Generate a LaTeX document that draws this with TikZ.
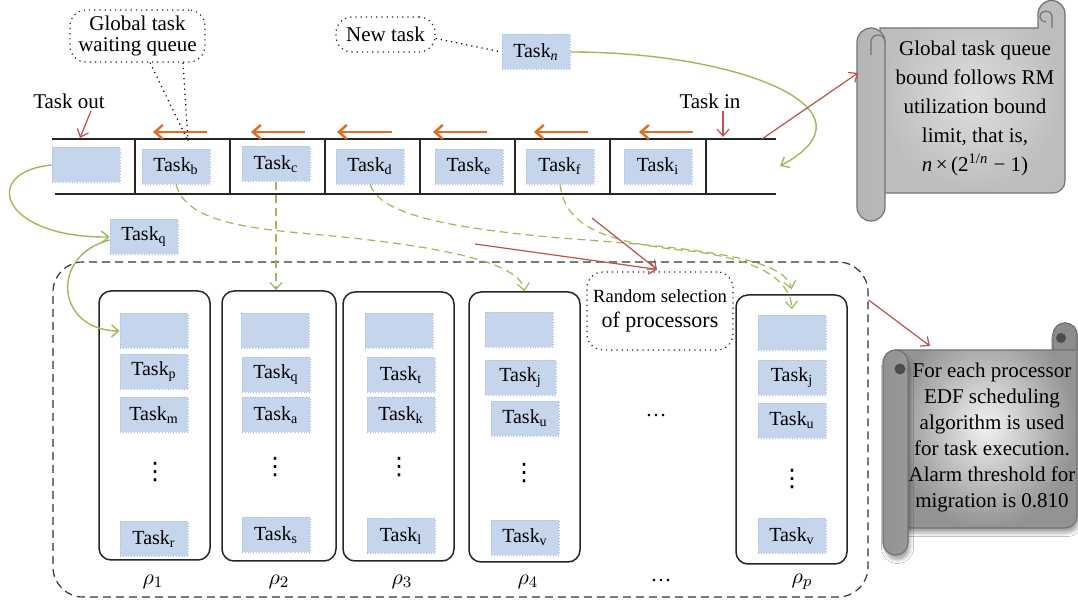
\documentclass[tikz,border=0pt]{standalone}
\usepackage{fontspec}
\setmainfont{Liberation Serif}
\newfontfamily\dotsfont{DejaVu Sans}
\usetikzlibrary{arrows.meta,shadows.blur}

\definecolor{taskblue}{HTML}{C5D5EC}
\definecolor{taskedge}{HTML}{A8BCDC}
\definecolor{flowgreen}{HTML}{9BBB59}
\definecolor{flowred}{HTML}{C0504D}
\definecolor{shiftorange}{HTML}{E46C1E}

\begin{document}
\begin{tikzpicture}[x=0.5pt,y=-0.5pt,
  every node/.style={font=\fontsize{10.5}{12.5}\selectfont, inner sep=1pt},
  task/.style={fill=taskblue, draw=taskedge, densely dotted, line width=0.4pt,
    minimum width=34pt, minimum height=17.5pt, inner sep=0pt,
    font=\fontsize{10}{12}\selectfont},
  proc/.style={draw=black!85, rounded corners=6pt, line width=0.75pt,
    minimum width=55.5pt, minimum height=134.5pt, inner sep=0pt},
  pool/.style={draw=black!80, dash pattern=on 4pt off 2.5pt, rounded corners=15pt,
    line width=0.6pt, inner sep=0pt},
  callout/.style={draw=black!85, dotted, line width=0.6pt, rounded corners=8pt,
    inner sep=0pt, align=center},
  vdotsnode/.style={inner sep=0pt, font=\dotsfont\fontsize{12}{12}\selectfont},
  tip/.style={-{Straight Barb[length=3.5pt,width=6pt]}},
  flow/.style={draw=flowgreen, line width=0.7pt, tip},
  pick/.style={draw=flowgreen, line width=0.6pt, dash pattern=on 4pt off 2.5pt, tip},
  hint/.style={draw=flowred, line width=0.6pt, tip},
  shiftarrow/.style={draw=shiftorange, line width=1.2pt,
    -{Straight Barb[length=4pt,width=7pt]}},
  queueline/.style={draw=black!85, line width=0.8pt},
  rolledge/.style={draw=black!55, line width=0.6pt}]

\path[use as bounding box, fill=white] (0,0) rectangle (1078,604);

% ---------- global queue ----------
\draw[queueline] (52,139) -- (776,139);
\draw[queueline] (55,194) -- (776,194);
\foreach \x in {135,230,325,420,515,610,706}
  \draw[queueline] (\x,139) -- (\x,194);

\node[task] (q0) at (86,165) {};
\node[task] (tb) at (176,166.5) {Task\textsubscript{b}};
\node[task] (tc) at (276,164) {Task\textsubscript{c}};
\node[task] (td) at (370,166.5) {Task\textsubscript{d}};
\node[task] (te) at (469,166.5) {Task\textsubscript{e}};
\node[task] (tf) at (560,166.5) {Task\textsubscript{f}};
\node[task] (ti) at (658,166.5) {Task\textsubscript{i}};

\coordinate (qout) at (80,138);
\coordinate (qin) at (723,137);
\coordinate (qend) at (762,139);
\coordinate (lastcell) at (780,166);
\coordinate (gqtip) at (188,141);

% shifting direction of the queue
\foreach \s/\e [count=\i] in {207/153,305/251,392/337,487/433,588/534,693/639}{
  \coordinate (os\i) at (\s,132);
  \coordinate (oe\i) at (\e,132);
  \draw[shiftarrow] (os\i) -- (oe\i);
}

\node (tout) at (69,101) {Task out};
\node (tin) at (710,101) {Task in};
\draw[hint] ([xshift=11pt]tout.south) -- (qout);
\draw[hint] ([xshift=6.5pt]tin.south) -- (qin);

\node[callout, minimum width=67.5pt, minimum height=26pt,
  font=\fontsize{10.5}{10.5}\selectfont] (gq) at (137.5,36) {Global task\\waiting queue};
\draw[dotted, line width=0.6pt] ([xshift=6.25pt]gq.south) -- (gqtip);
\draw[dotted, line width=0.6pt] ([xshift=22.75pt]gq.south) -- (gqtip);

\node[callout, minimum width=49.5pt, minimum height=17.5pt] (nt) at (385.5,34.5) {New task};
\node[task] (tn) at (536,52) {Task\textsubscript{\textit{n}}};
\draw[dotted, line width=0.6pt] ([yshift=-2pt]nt.east) -- (tn.west);
\draw[flow] (tn.east) .. controls (740,52) and (885,110) .. (lastcell);

% ---------- processors ----------
\node[pool, minimum width=407.5pt, minimum height=167.5pt] (pool) at (460.5,429.5) {};

\node[proc] (p1) at (154.5,425.5) {};
\node[proc, minimum width=57pt, minimum height=135pt] (p2) at (279,426) {};
\node[proc] (p3) at (398.5,426.5) {};
\node[proc, minimum height=135pt] (p4) at (524.5,427) {};
\node[proc] (pp) at (791.5,429.5) {};

\node[task] (p1e) at (154,331) {};
\node[task] (p1a) at (154,372) {Task\textsubscript{p}};
\node[task] (p1b) at (154,415) {Task\textsubscript{m}};
\node[vdotsnode] (p1d) at (155,472) {⋮};
\node[task] (p1z) at (154,539) {Task\textsubscript{r}};

\node[task] (p2e) at (275,330.5) {};
\node[task] (p2a) at (276,375) {Task\textsubscript{q}};
\node[task] (p2b) at (276,415) {Task\textsubscript{a}};
\node[vdotsnode] (p2d) at (275,467) {⋮};
\node[task] (p2z) at (276,535) {Task\textsubscript{s}};

\node[task] (p3e) at (399,330.5) {};
\node[task] (p3a) at (401,375) {Task\textsubscript{t}};
\node[task] (p3b) at (401,415) {Task\textsubscript{k}};
\node[vdotsnode] (p3d) at (399,467) {⋮};
\node[task] (p3z) at (401,536) {Task\textsubscript{l}};

\node[task] (p4e) at (519,329.5) {};
\node[task, minimum width=35.5pt] (p4a) at (520.5,377.5) {Task\textsubscript{j}};
\node[task] (p4b) at (525,418.5) {Task\textsubscript{u}};
\node[vdotsnode] (p4d) at (524,473) {⋮};
\node[task] (p4z) at (525,537.5) {Task\textsubscript{v}};

\node[task] (ppe) at (792,333) {};
\node[task] (ppa) at (792,377.5) {Task\textsubscript{j}};
\node[task] (ppb) at (792,420.5) {Task\textsubscript{u}};
\node[vdotsnode] (ppd) at (792,479) {⋮};
\node[task] (ppz) at (792,536) {Task\textsubscript{v}};

\node (mdots) at (656,416) {\dots};
\node (bdots) at (661,581) {\dots};

\node[font=\fontsize{11}{12}\selectfont] (r1) at (153,582) {$\rho_1$};
\node[font=\fontsize{11}{12}\selectfont] (r2) at (279,582) {$\rho_2$};
\node[font=\fontsize{11}{12}\selectfont] (r3) at (402,582) {$\rho_3$};
\node[font=\fontsize{11}{12}\selectfont] (r4) at (528,582) {$\rho_4$};
\node[font=\fontsize{11}{12}\selectfont] (rp) at (802,582) {$\rho_p$};

\node[callout, minimum width=73pt, minimum height=39pt,
  font=\fontsize{11}{12.5}\selectfont] (rs) at (660,311)
  {{\fontsize{9.3}{12.5}\selectfont Random selection}\\of processors};

% ---------- task movement ----------
\node[task] (tq) at (144,237) {Task\textsubscript{q}};
\draw[flow] (q0.west) .. controls (-20,172) and (0,238) .. (tq.west);
\draw[flow] ([yshift=-1.5pt]tq.west) .. controls (50,255) and (55,330) .. (p1e.west);

\draw[pick] (tb.south) .. controls (185,218) and (235,227) .. (300,233)
  .. controls (440,245) and (520,262) .. (p4.north);
\draw[pick] (tc.south) -- (tc.south |- p2.north);
\draw[pick] (td.south) .. controls (380,215) and (450,228) .. (560,238)
  .. controls (700,248) and (785,258) .. ([yshift=2.5pt]pp.north);
\draw[pick] (tf.south) .. controls (565,220) and (590,240) .. (680,250)
  .. controls (760,258) and (790,280) .. ([yshift=3pt]ppe.north);

\coordinate (rsa) at (475,244);
\coordinate (rsb) at (592,218);
\draw[hint] (rsa) -- ([xshift=-1.5pt,yshift=1pt]rs.north);
\draw[hint] (rsb) -- ([xshift=-1.5pt,yshift=1pt]rs.north);

% ---------- queue bound scroll ----------
\shadedraw[rolledge, inner color=gray!26, outer color=gray!52]
  (880,28) -- (1038,28) -- (1038,14)
  .. controls (1038,6.5) and (1044,0.5) .. (1051.5,0.5)
  .. controls (1059,0.5) and (1065,6.5) .. (1065,14)
  -- (1065,181) .. controls (1065,187.6) and (1059.6,193) .. (1053,193)
  -- (880,193) -- cycle;
\draw[rolledge] (1052,28) -- (1052,17) .. controls (1052,13) and (1049,11) .. (1046,11)
  .. controls (1043,11) and (1040,13) .. (1040,17) .. controls (1040,20) and (1043,22) .. (1046,22);
\shadedraw[rolledge, left color=gray!58, middle color=gray!32, right color=gray!55,
  rounded corners=7pt] (857,28) rectangle (885,221);
\draw[rolledge] (871,55) -- (871,42) .. controls (871,38) and (874,35) .. (878,35)
  .. controls (882,35) and (885,38) .. (885,42);
\node[align=center, font=\fontsize{10.5}{14.5}\selectfont] (boundtext) at (975,108)
  {Global task queue\\bound follows RM\\utilization bound\\limit, that is,\\
   \textit{n}\,×\,(2\textsuperscript{1/\textit{n}} − 1)};
\coordinate (s1in) at (858,73);
\draw[hint] (qend) -- (s1in);

% ---------- EDF scroll ----------
\shadedraw[rolledge, inner color=gray!10, outer color=gray!85,
  blur shadow={shadow xshift=1pt, shadow yshift=-2.5pt, shadow opacity=35}]
  (895,350) -- (1053,350) -- (1053,335)
  .. controls (1053,328.4) and (1058.4,323) .. (1065,323)
  .. controls (1071.6,323) and (1077,328.4) .. (1077,335)
  -- (1077,516) .. controls (1077,522.6) and (1071.6,528) .. (1065,528)
  -- (895,528) -- cycle;
\filldraw[rolledge, fill=gray!90] (1053,350) -- (1053,335)
  .. controls (1053,328.4) and (1058.4,323) .. (1065,323)
  .. controls (1071.6,323) and (1077,328.4) .. (1077,335) -- (1077,350) -- cycle;
\fill[black!70] (1061,338) circle[radius=5];
\shadedraw[rolledge, left color=gray!85, middle color=gray!45, right color=gray!80,
  rounded corners=6.25pt,
  blur shadow={shadow xshift=1pt, shadow yshift=-2.5pt, shadow opacity=35}]
  (883,350) rectangle (908,555);
\fill[black!70] (900,369) circle[radius=5.5];
\node[align=center, font=\fontsize{10.5}{13}\selectfont] (edftext) at (992,437)
  {For each processor\\EDF scheduling\\algorithm is used\\for task execution.\\
   Alarm threshold for\\migration is 0.810};
\coordinate (s2in) at (930,346);
\draw[hint] ([yshift=64.75pt]pool.east) -- (s2in);

\end{tikzpicture}
\end{document}
